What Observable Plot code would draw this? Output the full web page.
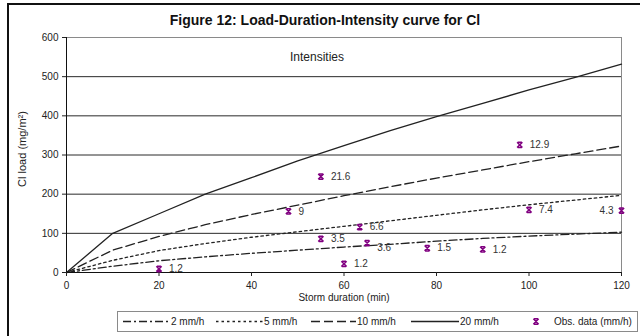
<!DOCTYPE html>
<html>
<head>
<meta charset="utf-8">
<script src="https://cdn.jsdelivr.net/npm/d3@7"></script>
<script src="https://cdn.jsdelivr.net/npm/@observablehq/plot@0.6"></script>
<style>
  html, body { margin: 0; padding: 0; background: #fff; }
  #chart { position: relative; width: 640px; height: 336px; overflow: hidden;
           font-family: "Liberation Sans", Arial, sans-serif; }
  #frame { position: absolute; left: 7px; top: 3px; width: 640px; height: 340px;
           border-left: 2px solid #111; border-top: 2px solid #111; }
  #title { position: absolute; left: 4px; width: 642px; top: 11px; text-align: center;
           font-weight: bold; font-size: 14px; line-height: 18px; color: #111; }
  #plot { position: absolute; left: 0; top: 0; }
  #legend { position: absolute; left: 0; top: 0; }
</style>
</head>
<body>
<div id="chart">
  <div id="plot"></div>
  <div id="frame"></div>
  <div id="title">Figure 12: Load-Duration-Intensity curve for Cl</div>
  <div id="legend"></div>
</div>
<script>
// Storm duration (min) at which each modelled curve is evaluated
const minutes = [0, 10, 20, 30, 40, 50, 60, 70, 80, 90, 100, 110, 120];
// Modelled Cl load (mg/m2) for each rainfall intensity
const load2  = [0, 16, 30, 40, 49, 57, 65, 72, 80, 87, 93, 98, 103];
const load5  = [0, 31, 56, 74, 90, 104, 118, 132, 146, 160, 173, 185, 197];
const load10 = [0, 57, 92, 122, 148, 172, 196, 219, 241, 262, 283, 303, 323];
const load20 = [0, 100, 150, 200, 242, 285, 324, 362, 398, 432, 466, 498, 532];

// Observed events: duration (min), load (mg/m2), measured intensity (mm/h)
const obsDuration  = [20, 48, 55, 55, 60, 63.4, 65, 78, 90, 98, 100, 120];
const obsLoad      = [9, 156, 245, 86, 22, 116, 75, 62, 59, 326, 160, 158];
const obsIntensity = ["1.2", "9", "21.6", "3.5", "1.2", "6.6", "3.6", "1.5", "1.2", "12.9", "7.4", "4.3"];

// Axis ticks
const xTicks = [0, 20, 40, 60, 80, 100, 120];
const yTicks = [0, 100, 200, 300, 400, 500, 600];

const series = [
  {name: "2 mm/h",  values: load2,  dash: "8,3,2,3"},
  {name: "5 mm/h",  values: load5,  dash: "2.5,3"},
  {name: "10 mm/h", values: load10, dash: "9,4"},
  {name: "20 mm/h", values: load20, dash: null}
];

const obs = obsDuration.map((d, i) => ({duration: d, load: obsLoad[i], intensity: obsIntensity[i]}));
const xMax = xTicks[xTicks.length - 1];
const yMax = yTicks[yTicks.length - 1];

// Star-like cross marker with short caps, as used for the observations
const crossMarker = {
  draw(context, size) {
    const h = Math.sqrt(size) / 2.4;
    context.moveTo(-h, -h); context.lineTo(h, h);
    context.moveTo(h, -h); context.lineTo(-h, h);
    context.moveTo(-h * 0.8, -h); context.lineTo(h * 0.8, -h);
    context.moveTo(-h * 0.8, h); context.lineTo(h * 0.8, h);
  }
};

const lineColor = "#222";
const purple = "#800080";

const lineMarks = series.map(s => Plot.line(minutes.map((m, i) => ({m, v: s.values[i]})), {
  x: "m", y: "v", stroke: lineColor, strokeWidth: 1.3,
  strokeDasharray: s.dash || undefined, curve: "linear"
}));

const chart = Plot.plot({
  width: 640,
  height: 336,
  marginLeft: 66,
  marginRight: 19,
  marginTop: 37,
  marginBottom: 64,
  style: {fontFamily: "'Liberation Sans', Arial, sans-serif", fontSize: "10px", background: "transparent", color: "#222"},
  x: {domain: [0, xMax], label: null},
  y: {domain: [0, yMax], label: null},
  marks: [
    Plot.ruleY(yTicks.filter(t => t > 0 && t < yMax), {stroke: "#2a2a2a", strokeWidth: 1}),
    Plot.ruleY([yMax], {stroke: "#8a8a8a"}),
    Plot.ruleX([xMax], {stroke: "#8a8a8a"}),
    ...lineMarks,
    Plot.ruleX([0], {stroke: "#111"}),
    Plot.ruleY([0], {stroke: "#111"}),
    Plot.axisX({ticks: xTicks, tickSize: 4, tickPadding: 5, label: null, fontSize: 10}),
    Plot.axisY({ticks: yTicks, tickSize: 4, tickPadding: 4, label: null, fontSize: 10}),
    Plot.dot(obs, {x: "duration", y: "load", symbol: crossMarker, r: 3.6, stroke: purple, strokeWidth: 1.5, fill: "none"}),
    Plot.text(obs.filter(d => d.duration < xMax && d.intensity !== "3.6"), {
      x: "duration", y: "load", text: "intensity", dx: 10, textAnchor: "start", lineAnchor: "middle", fill: "#333", fontSize: 10
    }),
    Plot.text(obs.filter(d => d.intensity === "3.6"), {
      x: "duration", y: "load", text: "intensity", dx: 10, dy: 5, textAnchor: "start", lineAnchor: "middle", fill: "#333", fontSize: 10
    }),
    Plot.text(obs.filter(d => d.duration >= xMax), {
      x: "duration", y: "load", text: "intensity", dx: -8, textAnchor: "end", lineAnchor: "middle", fill: "#333", fontSize: 10
    }),
    Plot.text(["Intensities"], {frameAnchor: "top", dx: -27, dy: 20, textAnchor: "middle", lineAnchor: "middle", fontSize: 12, fill: "#222"}),
    Plot.text(["Storm duration (min)"], {frameAnchor: "bottom", dy: 25, textAnchor: "middle", lineAnchor: "middle", fontSize: 10, fill: "#222"}),
    Plot.text(["Cl load (mg/m²)"], {frameAnchor: "left", dx: -44, dy: -6, rotate: -90, textAnchor: "middle", lineAnchor: "middle", fontSize: 11, fill: "#222"})
  ]
});
document.getElementById("plot").appendChild(chart);

// Legend box below the plot
const legendItems = [
  {label: series[0].name, dash: series[0].dash, x0: 123, x1: 170},
  {label: series[1].name, dash: series[1].dash, x0: 216, x1: 263},
  {label: series[2].name, dash: series[2].dash, x0: 311, x1: 356},
  {label: series[3].name, dash: series[3].dash, x0: 411, x1: 459}
];
const lg = d3.select("#legend").append("svg").attr("width", 640).attr("height", 336)
  .style("font-family", "'Liberation Sans', Arial, sans-serif").style("font-size", "10px");
lg.append("rect").attr("x", 117.5).attr("y", 311.5).attr("width", 520).attr("height", 20)
  .attr("fill", "#fff").attr("stroke", "#8a8a8a");
for (const it of legendItems) {
  lg.append("line").attr("x1", it.x0).attr("x2", it.x1).attr("y1", 321.5).attr("y2", 321.5)
    .attr("stroke", lineColor).attr("stroke-width", 1.3).attr("stroke-dasharray", it.dash);
  lg.append("text").attr("x", it.x1 + 1).attr("y", 325).attr("fill", "#222").text(it.label);
}
const mk = d3.path(); crossMarker.draw(mk, 3.6 * 3.6 * Math.PI);
lg.append("path").attr("d", mk.toString()).attr("transform", "translate(536,321.5)")
  .attr("stroke", purple).attr("stroke-width", 1.5).attr("fill", "none");
lg.append("text").attr("x", 554).attr("y", 325).attr("fill", "#222").text("Obs. data (mm/h)");
</script>
</body>
</html>
